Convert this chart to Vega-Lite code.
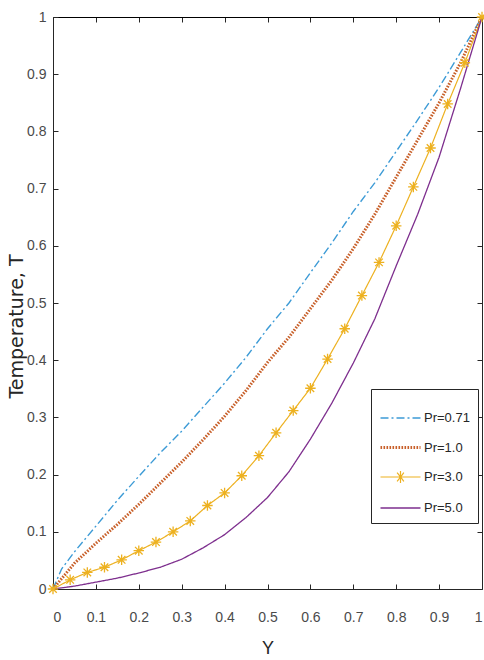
{
  "$schema": "https://vega.github.io/schema/vega-lite/v6.json",
  "width": 429,
  "height": 572,
  "autosize": {"type": "none"},
  "padding": {"left": 53, "top": 17, "right": 2, "bottom": 71},
  "background": "white",
  "config": {
    "view": {"stroke": null},
    "font": "Liberation Sans",
    "axis": {
      "grid": false,
      "domainColor": "#262626",
      "domainWidth": 1,
      "tickColor": "#262626",
      "tickSize": -5,
      "labelFont": "Liberation Sans",
      "labelFontSize": 14,
      "labelColor": "#4a4a4a",
      "titleFontWeight": "normal",
      "titleColor": "#262626"
    }
  },
  "data": {
    "values": [
      {"Y": 0.0, "T": 0.0, "series": "Pr=0.71"},
      {"Y": 0.02, "T": 0.035, "series": "Pr=0.71"},
      {"Y": 0.05, "T": 0.065, "series": "Pr=0.71"},
      {"Y": 0.1, "T": 0.11, "series": "Pr=0.71"},
      {"Y": 0.15, "T": 0.155, "series": "Pr=0.71"},
      {"Y": 0.2, "T": 0.197, "series": "Pr=0.71"},
      {"Y": 0.25, "T": 0.238, "series": "Pr=0.71"},
      {"Y": 0.3, "T": 0.276, "series": "Pr=0.71"},
      {"Y": 0.35, "T": 0.318, "series": "Pr=0.71"},
      {"Y": 0.4, "T": 0.36, "series": "Pr=0.71"},
      {"Y": 0.45, "T": 0.405, "series": "Pr=0.71"},
      {"Y": 0.5, "T": 0.455, "series": "Pr=0.71"},
      {"Y": 0.55, "T": 0.5, "series": "Pr=0.71"},
      {"Y": 0.6, "T": 0.553, "series": "Pr=0.71"},
      {"Y": 0.65, "T": 0.605, "series": "Pr=0.71"},
      {"Y": 0.7, "T": 0.66, "series": "Pr=0.71"},
      {"Y": 0.75, "T": 0.71, "series": "Pr=0.71"},
      {"Y": 0.8, "T": 0.765, "series": "Pr=0.71"},
      {"Y": 0.85, "T": 0.82, "series": "Pr=0.71"},
      {"Y": 0.9, "T": 0.877, "series": "Pr=0.71"},
      {"Y": 0.95, "T": 0.938, "series": "Pr=0.71"},
      {"Y": 1.0, "T": 1.0, "series": "Pr=0.71"},

      {"Y": 0.0, "T": 0.0, "series": "Pr=1.0"},
      {"Y": 0.05, "T": 0.045, "series": "Pr=1.0"},
      {"Y": 0.1, "T": 0.08, "series": "Pr=1.0"},
      {"Y": 0.15, "T": 0.113, "series": "Pr=1.0"},
      {"Y": 0.2, "T": 0.148, "series": "Pr=1.0"},
      {"Y": 0.25, "T": 0.185, "series": "Pr=1.0"},
      {"Y": 0.3, "T": 0.222, "series": "Pr=1.0"},
      {"Y": 0.35, "T": 0.261, "series": "Pr=1.0"},
      {"Y": 0.4, "T": 0.302, "series": "Pr=1.0"},
      {"Y": 0.45, "T": 0.347, "series": "Pr=1.0"},
      {"Y": 0.5, "T": 0.396, "series": "Pr=1.0"},
      {"Y": 0.55, "T": 0.44, "series": "Pr=1.0"},
      {"Y": 0.6, "T": 0.49, "series": "Pr=1.0"},
      {"Y": 0.65, "T": 0.54, "series": "Pr=1.0"},
      {"Y": 0.7, "T": 0.595, "series": "Pr=1.0"},
      {"Y": 0.75, "T": 0.655, "series": "Pr=1.0"},
      {"Y": 0.8, "T": 0.72, "series": "Pr=1.0"},
      {"Y": 0.85, "T": 0.785, "series": "Pr=1.0"},
      {"Y": 0.9, "T": 0.85, "series": "Pr=1.0"},
      {"Y": 0.95, "T": 0.92, "series": "Pr=1.0"},
      {"Y": 1.0, "T": 1.0, "series": "Pr=1.0"},

      {"Y": 0.0, "T": 0.0, "series": "Pr=3.0"},
      {"Y": 0.04, "T": 0.016, "series": "Pr=3.0"},
      {"Y": 0.08, "T": 0.029, "series": "Pr=3.0"},
      {"Y": 0.12, "T": 0.038, "series": "Pr=3.0"},
      {"Y": 0.16, "T": 0.051, "series": "Pr=3.0"},
      {"Y": 0.2, "T": 0.067, "series": "Pr=3.0"},
      {"Y": 0.24, "T": 0.082, "series": "Pr=3.0"},
      {"Y": 0.28, "T": 0.1, "series": "Pr=3.0"},
      {"Y": 0.32, "T": 0.119, "series": "Pr=3.0"},
      {"Y": 0.36, "T": 0.146, "series": "Pr=3.0"},
      {"Y": 0.4, "T": 0.168, "series": "Pr=3.0"},
      {"Y": 0.44, "T": 0.198, "series": "Pr=3.0"},
      {"Y": 0.48, "T": 0.233, "series": "Pr=3.0"},
      {"Y": 0.52, "T": 0.273, "series": "Pr=3.0"},
      {"Y": 0.56, "T": 0.312, "series": "Pr=3.0"},
      {"Y": 0.6, "T": 0.351, "series": "Pr=3.0"},
      {"Y": 0.64, "T": 0.402, "series": "Pr=3.0"},
      {"Y": 0.68, "T": 0.455, "series": "Pr=3.0"},
      {"Y": 0.72, "T": 0.513, "series": "Pr=3.0"},
      {"Y": 0.76, "T": 0.571, "series": "Pr=3.0"},
      {"Y": 0.8, "T": 0.635, "series": "Pr=3.0"},
      {"Y": 0.84, "T": 0.703, "series": "Pr=3.0"},
      {"Y": 0.88, "T": 0.771, "series": "Pr=3.0"},
      {"Y": 0.92, "T": 0.848, "series": "Pr=3.0"},
      {"Y": 0.96, "T": 0.92, "series": "Pr=3.0"},
      {"Y": 1.0, "T": 1.0, "series": "Pr=3.0"},

      {"Y": 0.0, "T": 0.0, "series": "Pr=5.0"},
      {"Y": 0.05, "T": 0.005, "series": "Pr=5.0"},
      {"Y": 0.1, "T": 0.012, "series": "Pr=5.0"},
      {"Y": 0.15, "T": 0.019, "series": "Pr=5.0"},
      {"Y": 0.2, "T": 0.028, "series": "Pr=5.0"},
      {"Y": 0.25, "T": 0.038, "series": "Pr=5.0"},
      {"Y": 0.3, "T": 0.052, "series": "Pr=5.0"},
      {"Y": 0.35, "T": 0.072, "series": "Pr=5.0"},
      {"Y": 0.4, "T": 0.095, "series": "Pr=5.0"},
      {"Y": 0.45, "T": 0.125, "series": "Pr=5.0"},
      {"Y": 0.5, "T": 0.16, "series": "Pr=5.0"},
      {"Y": 0.55, "T": 0.205, "series": "Pr=5.0"},
      {"Y": 0.6, "T": 0.262, "series": "Pr=5.0"},
      {"Y": 0.65, "T": 0.325, "series": "Pr=5.0"},
      {"Y": 0.7, "T": 0.395, "series": "Pr=5.0"},
      {"Y": 0.75, "T": 0.472, "series": "Pr=5.0"},
      {"Y": 0.8, "T": 0.565, "series": "Pr=5.0"},
      {"Y": 0.85, "T": 0.655, "series": "Pr=5.0"},
      {"Y": 0.9, "T": 0.755, "series": "Pr=5.0"},
      {"Y": 0.95, "T": 0.875, "series": "Pr=5.0"},
      {"Y": 1.0, "T": 1.0, "series": "Pr=5.0"}
    ]
  },
  "layer": [
    {
      "mark": {"type": "line", "strokeCap": "butt"},
      "encoding": {
        "x": {
          "field": "Y", "type": "quantitative",
          "scale": {"domain": [0, 1], "nice": false},
          "axis": {
            "title": "Y", "titleFont": "Liberation Sans", "titleFontSize": 18,
            "titleBaseline": "alphabetic", "titleY": 64,
            "values": [0, 0.1, 0.2, 0.3, 0.4, 0.5, 0.6, 0.7, 0.8, 0.9, 1],
            "format": "~g", "labelPadding": 26
          }
        },
        "y": {
          "field": "T", "type": "quantitative",
          "scale": {"domain": [0, 1], "nice": false},
          "axis": {
            "title": "Temperature, T", "titleFont": "DejaVu Sans", "titleFontSize": 19,
            "titleBaseline": "alphabetic", "titleX": -31, "titleY": 309,
            "values": [0, 0.1, 0.2, 0.3, 0.4, 0.5, 0.6, 0.7, 0.8, 0.9, 1],
            "format": "~g", "labelPadding": 12
          }
        },
        "color": {
          "field": "series", "type": "nominal",
          "scale": {
            "domain": ["Pr=0.71", "Pr=1.0", "Pr=3.0", "Pr=5.0"],
            "range": ["#3d9bd6", "#c8602a", "#edb120", "#7e2f8e"]
          },
          "legend": {
            "title": null,
            "orient": "none",
            "legendX": 318,
            "legendY": 372,
            "fillColor": "white",
            "strokeColor": "#262626",
            "padding": 8,
            "rowPadding": 1,
            "symbolSize": 1600,
            "symbolStrokeWidth": 1.5,
            "labelFont": "Liberation Sans",
            "labelFontSize": 13,
            "labelColor": "#262626",
            "labelOffset": 2,
            "encode": {
              "symbols": {
                "update": {
                  "shape": {"signal": "datum.value === 'Pr=3.0' ? 'M-1,0L1,0M-0.22,0L0.22,0M0,-0.3L0,0.3M-0.17,-0.22L0.17,0.22M-0.17,0.22L0.17,-0.22' : 'stroke'"},
                  "strokeWidth": {"signal": "datum.value === 'Pr=1.0' ? 3 : 1.3"}
                }
              }
            }
          }
        },
        "strokeDash": {
          "field": "series", "type": "nominal",
          "scale": {
            "domain": ["Pr=0.71", "Pr=1.0", "Pr=3.0", "Pr=5.0"],
            "range": [[8, 3, 2, 3], [1.6, 1.4], [1, 0], [1, 0]]
          }
        },
        "strokeWidth": {
          "field": "series", "type": "nominal",
          "scale": {
            "type": "ordinal",
            "domain": ["Pr=0.71", "Pr=1.0", "Pr=3.0", "Pr=5.0"],
            "range": [1.4, 3, 1.2, 1.3]
          },
          "legend": null
        }
      }
    },
    {
      "transform": [{"filter": "datum.series === 'Pr=3.0'"}],
      "mark": {
        "type": "point",
        "shape": "M-1,0L1,0M0,-1L0,1M-0.72,-0.72L0.72,0.72M-0.72,0.72L0.72,-0.72",
        "filled": false,
        "size": 110,
        "strokeWidth": 1.3,
        "color": "#edb120",
        "opacity": 1
      },
      "encoding": {
        "x": {
          "field": "Y", "type": "quantitative",
          "scale": {"domain": [0, 1], "nice": false},
          "axis": {
            "orient": "top", "title": null, "labels": false,
            "values": [0, 0.1, 0.2, 0.3, 0.4, 0.5, 0.6, 0.7, 0.8, 0.9, 1],
            "domainColor": "#000000"
          }
        },
        "y": {
          "field": "T", "type": "quantitative",
          "scale": {"domain": [0, 1], "nice": false},
          "axis": {
            "orient": "right", "title": null, "labels": false,
            "values": [0, 0.1, 0.2, 0.3, 0.4, 0.5, 0.6, 0.7, 0.8, 0.9, 1]
          }
        }
      }
    }
  ],
  "resolve": {"axis": {"x": "independent", "y": "independent"}}
}
